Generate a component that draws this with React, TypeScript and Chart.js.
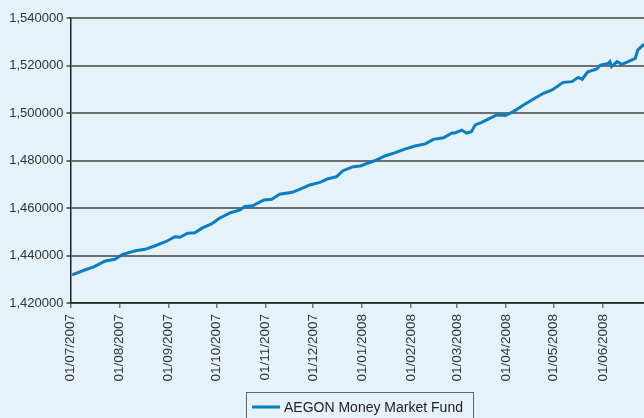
import React, { useEffect, useRef } from 'react';
import { Chart, registerables } from 'chart.js';

Chart.register(...registerables);

const seriesName = 'AEGON Money Market Fund';

// days since 01/07/2007
const dayOffsets = [
  1, 9, 15, 22, 28, 33, 41, 47, 53, 60, 66, 69, 74, 78.5, 83, 89,
  94, 101, 107, 110, 115, 122, 127, 132, 140, 145, 151, 157.5, 162, 168, 172, 178.5, 183,
  186, 192, 198.5, 205, 211, 217.5, 224, 229, 235.5, 240.5, 243, 247, 250, 253, 255.5, 259.5, 264, 269,
  274.5, 279.5, 286, 292, 298.5, 304, 311, 316.5, 320.5, 323, 326.5, 332, 334.5, 339.5, 340.5, 341.5,
  345, 348, 352, 356.5, 358, 362,
];

const navValues = [
  1.4318, 1.4339, 1.4353, 1.4377, 1.4384, 1.4405, 1.4420, 1.4426, 1.4440, 1.4458, 1.4479, 1.4477, 1.4494, 1.4496, 1.4515, 1.4533,
  1.4557, 1.4580, 1.4592, 1.4606, 1.4609, 1.4634, 1.4637, 1.4658, 1.4666, 1.4679, 1.4697, 1.4708, 1.4722, 1.4732, 1.4757, 1.4774, 1.4777,
  1.4785, 1.4799, 1.4819, 1.4833, 1.4848, 1.4861, 1.4870, 1.4889, 1.4896, 1.4915, 1.4917, 1.4928, 1.4915, 1.4921, 1.4950, 1.4961, 1.4975, 1.4992,
  1.4990, 1.5006, 1.5034, 1.5058, 1.5083, 1.5097, 1.5129, 1.5132, 1.5150, 1.5142, 1.5173, 1.5184, 1.5202, 1.5209, 1.5216, 1.5195,
  1.5216, 1.5205, 1.5216, 1.5230, 1.5265, 1.5290,
];

const tickDays = [0, 31, 62, 92, 123, 153, 184, 215, 244, 275, 305, 336];
const tickLabels = [
  '01/07/2007', '01/08/2007', '01/09/2007', '01/10/2007', '01/11/2007', '01/12/2007',
  '01/01/2008', '01/02/2008', '01/03/2008', '01/04/2008', '01/05/2008', '01/06/2008',
];

const yMin = 1.42;
const yMax = 1.54;
const yStep = 0.02;

const BG = 'rgb(229,242,249)';
const BLUE = '#0b7dc5';
const TEXT = '#333333';
const FONT = '"Liberation Sans", Arial, sans-serif';

const bgPlugin = {
  id: 'bg',
  beforeDraw(chart: any) {
    const ctx = chart.ctx;
    ctx.save();
    ctx.fillStyle = BG;
    ctx.fillRect(0, 0, chart.width, chart.height);
    ctx.restore();
  },
};

const legendBoxPlugin = {
  id: 'legendBox',
  afterDraw(chart: any) {
    const ctx = chart.ctx;
    ctx.save();
    ctx.strokeStyle = '#666666';
    ctx.lineWidth = 1;
    ctx.strokeRect(246.5, 392.5, 227, 40);
    ctx.strokeStyle = BLUE;
    ctx.lineWidth = 3;
    ctx.beginPath();
    ctx.moveTo(252, 407);
    ctx.lineTo(280, 407);
    ctx.stroke();
    ctx.fillStyle = '#222222';
    ctx.font = '14px ' + FONT;
    ctx.textBaseline = 'middle';
    ctx.textAlign = 'left';
    ctx.fillText(seriesName, 284, 408);
    ctx.restore();
  },
};

export default function App() {
  const ref = useRef<HTMLCanvasElement>(null);
  useEffect(() => {
    document.body.style.margin = '0';
    document.body.style.background = BG;
    const chart = new Chart(ref.current as HTMLCanvasElement, {
      type: 'line',
      data: {
        datasets: [
          {
            label: seriesName,
            data: dayOffsets.map((d, i) => ({ x: d, y: navValues[i] })),
            borderColor: BLUE,
            borderWidth: 3,
            pointRadius: 0,
            tension: 0,
            fill: false,
          },
        ],
      },
      options: {
        animation: false,
        responsive: false,
        layout: { padding: { top: 18, right: 0, left: 0, bottom: 0 } },
        plugins: { legend: { display: false }, tooltip: { enabled: false } },
        scales: {
          x: {
            type: 'linear',
            min: 0,
            max: 362,
            afterBuildTicks: (s: any) => {
              s.ticks = tickDays.map((v) => ({ value: v }));
            },
            afterFit: (s: any) => {
              s.height = 115;
            },
            ticks: {
              autoSkip: false,
              minRotation: 90,
              maxRotation: 90,
              padding: 6,
              color: TEXT,
              font: { family: FONT, size: 13.5 },
              callback: (_v: any, i: number) => tickLabels[i],
            },
            grid: { drawOnChartArea: false, drawTicks: true, tickLength: 5, color: '#777777', lineWidth: 1.5 },
            border: { color: '#222222', width: 1.5 },
          },
          y: {
            min: yMin,
            max: yMax,
            afterFit: (s: any) => {
              s.width = 70.5;
            },
            ticks: {
              stepSize: yStep,
              padding: 3,
              color: TEXT,
              font: { family: FONT, size: 13 },
              callback: (v: any) => Number(v).toFixed(6).replace('.', ','),
            },
            grid: { color: '#6e6e6e', lineWidth: 2, tickLength: 4 },
            border: { color: '#222222', width: 1.5 },
          },
        },
      },
      plugins: [bgPlugin, legendBoxPlugin],
    } as any);
    return () => chart.destroy();
  }, []);
  return <canvas ref={ref} width={644} height={418} style={{ display: 'block' }} />;
}
